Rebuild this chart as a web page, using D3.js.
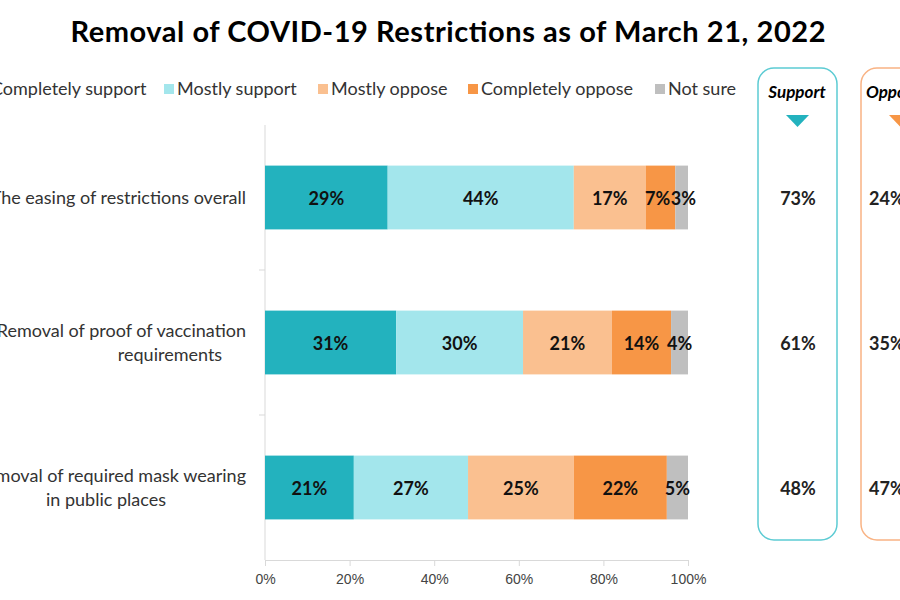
<!DOCTYPE html><html><head><meta charset="utf-8"><script src="https://cdn.jsdelivr.net/npm/d3@7"></script>
<style>body{margin:0;background:#fff}svg{font-family:Lato,"Open Sans",sans-serif}</style></head><body><svg id="c" width="900" height="600"></svg>
<script>
const categories=[["The easing of restrictions overall"],["Removal of proof of vaccination","requirements"],["Removal of required mask wearing","in public places"]];
const seriesNames=["Completely support","Mostly support","Mostly oppose","Completely oppose","Not sure"];
const colors=["#23b2be","#a3e6ec","#fac090","#f79646","#bfbfbf"];
const values=[[29,44,17,7,3],[31,30,21,14,4],[21,27,25,22,5]];
const supportTotals=[73,61,48];
const opposeTotals=[24,35,47];
const ticks=[0,20,40,60,80,100];
const svg=d3.select("#c");
svg.append("text").attr("x",448).attr("y",42).attr("text-anchor","middle").attr("font-size",29).attr("font-weight",700).attr("textLength",755).text("Removal of COVID-19 Restrictions as of March 21, 2022");
const x=d3.scaleLinear().domain([0,100]).range([265,688]);
const y=d3.scaleBand().domain([0,1,2]).range([125,560]).paddingInner(0.56).paddingOuter(0.28);
const lg=[-22,164,318,468,655];
seriesNames.forEach((n,i)=>{const g=svg.append("g").attr("transform",`translate(${lg[i]},94)`);
g.append("rect").attr("x",0).attr("y",-10).attr("width",10).attr("height",10).attr("fill",colors[i]);
g.append("text").attr("x",13).attr("y",1).attr("font-size",18).attr("fill","#333").text(n);});
svg.append("g").attr("transform","translate(0,560)").call(d3.axisBottom(x).tickValues(ticks).tickFormat(d=>d+"%").tickSize(6).tickSizeOuter(0))
 .call(g=>{g.select(".domain").attr("stroke","#d9d9d9");g.selectAll(".tick line").attr("stroke","#d9d9d9");g.selectAll("text").attr("font-size",14).attr("fill","#444").attr("dy","1.1em");});
svg.append("line").attr("x1",265).attr("x2",265).attr("y1",125).attr("y2",560).attr("stroke","#d9d9d9");
[270,415].forEach(v=>svg.append("line").attr("x1",259).attr("x2",265).attr("y1",v).attr("y2",v).attr("stroke","#d9d9d9"));
values.forEach((row,r)=>{let acc=0;row.forEach((v,i)=>{
 svg.append("rect").attr("x",x(acc)).attr("width",x(acc+v)-x(acc)).attr("y",y(r)).attr("height",y.bandwidth()).attr("fill",colors[i]);
 let cx=(x(acc)+x(acc+v))/2; if(i==4&&v<=3)cx=x(acc)+8; if(i==3&&v<=7)cx=x(acc)+12;
 svg.append("text").attr("x",cx).attr("y",y(r)+y.bandwidth()/2+7).attr("text-anchor","middle").attr("font-size",18).attr("font-weight",700).attr("fill","#111").text(v+"%");
 acc+=v;});
 const cy=y(r)+y.bandwidth()/2;const lines=categories[r];
 if(lines.length==1)svg.append("text").attr("x",246).attr("y",cy+6).attr("text-anchor","end").attr("font-size",18).attr("fill","#333").text(lines[0]);
 else{svg.append("text").attr("x",246).attr("y",cy-6).attr("text-anchor","end").attr("font-size",18).attr("fill","#333").text(lines[0]);
 svg.append("text").attr("x",[0,170,106][r]).attr("y",cy+18).attr("text-anchor","middle").attr("font-size",18).attr("fill","#333").text(lines[1]);}
 svg.append("text").attr("x",798).attr("y",cy+7).attr("text-anchor","middle").attr("font-size",18).attr("font-weight",700).attr("fill","#222").text(supportTotals[r]+"%");
 svg.append("text").attr("x",869).attr("y",cy+7).attr("font-size",18).attr("font-weight",700).attr("fill","#222").text(opposeTotals[r]+"%");
});
svg.append("rect").attr("x",758).attr("y",68).attr("width",79).attr("height",472).attr("rx",16).attr("fill","none").attr("stroke","#5ccbd3").attr("stroke-width",1.5);
svg.append("rect").attr("x",861).attr("y",68).attr("width",79).attr("height",472).attr("rx",16).attr("fill","none").attr("stroke","#f9b384").attr("stroke-width",1.5);
svg.append("text").attr("x",797).attr("y",98).attr("text-anchor","middle").attr("font-size",17).attr("font-weight",700).attr("font-style","italic").text("Support");
svg.append("text").attr("x",866).attr("y",98).attr("font-size",17).attr("font-weight",700).attr("font-style","italic").text("Oppose");
svg.append("path").attr("d","M786,115L809,115L797.5,127Z").attr("fill","#23b2be");
svg.append("path").attr("d","M889,115L912,115L900.5,127Z").attr("fill","#f79646");
</script></body></html>
